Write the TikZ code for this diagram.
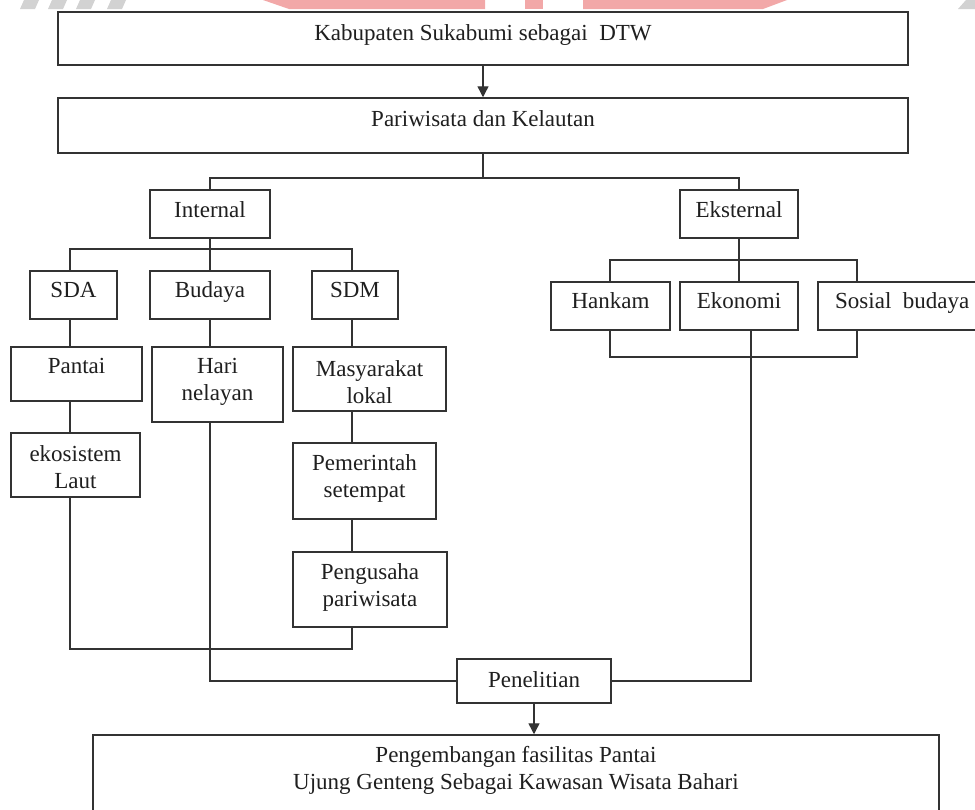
\documentclass[tikz,border=0pt]{standalone}
\usepackage{fontspec}
\setmainfont{Liberation Serif}
\usetikzlibrary{arrows.meta,fit,calc}
\definecolor{boxcol}{HTML}{333333}
\definecolor{wmred}{HTML}{F2A8A8}
\definecolor{wmgrey}{HTML}{D2D2D2}
\tikzset{
  box/.style={draw=boxcol, line width=1.5pt, inner sep=0pt},
  txt/.style={font=\fontsize{23}{27}\selectfont, inner sep=0pt, anchor=base, text=black!88},
  mtxt/.style={font=\fontsize{23}{27}\selectfont, inner sep=0pt, anchor=center, align=center, text=black!88},
  conn/.style={draw=boxcol, line width=1.4pt},
  arr/.style={conn, -{Triangle[length=11pt,width=11pt]}},
  wmr/.style={fill=wmred, draw=none},
  wmg/.style={fill=wmgrey, draw=none},
}
\newcommand{\mybox}[5]{\node[box, fit={(#2,#3) (#4,#5)}] (#1) {};}
\begin{document}
\begin{tikzpicture}[x=1pt,y=-1pt]
\useasboundingbox (0,0) rectangle (975,809);
\clip (0,0) rectangle (975,809);
\fill[white] (0,0) rectangle (975,809);
% watermark fragments
\fill[wmg] (24,0) -- (39,0) -- (35,9) -- (20,9) -- cycle;
\fill[wmg] (52,0) -- (67,0) -- (63,9) -- (48,9) -- cycle;
\fill[wmg] (80,0) -- (95,0) -- (91,9) -- (76,9) -- cycle;
\fill[wmg] (111,0) -- (126,0) -- (122,9) -- (107,9) -- cycle;
\fill[wmg] (966,0) -- (975,0) -- (975,9) -- (958,9) -- cycle;
\fill[wmr] (263,0) -- (485,0) -- (485,9) -- (289,9) -- cycle;
\fill[wmr] (525,0) -- (543,0) -- (543,9) -- (525,9) -- cycle;
\fill[wmr] (583,0) -- (787,0) -- (763,9) -- (583,9) -- cycle;

% boxes
\mybox{top}{58}{12}{908}{65}
\mybox{pari}{58}{98}{908}{153}
\mybox{int}{150}{190}{270}{238}
\mybox{eks}{680}{190}{798}{238}
\mybox{sda}{30}{271}{117}{319}
\mybox{bud}{150}{271}{270}{319}
\mybox{sdm}{312}{271}{398}{319}
\mybox{han}{551}{282}{670}{330}
\mybox{eko}{680}{282}{798}{330}
\mybox{sos}{818}{282}{1010}{330}
\mybox{pan}{11}{347}{142}{401}
\mybox{hari}{152}{347}{283}{422}
\mybox{mas}{293}{347}{446}{411}
\mybox{ekos}{11}{433}{140}{497}
\mybox{pem}{293}{443}{436}{519}
\mybox{peng}{293}{552}{447}{627}
\mybox{pen}{457}{659}{611}{703}
\mybox{big}{93}{735}{939}{830}

% texts
\node[txt] (t-top) at (483,40) {Kabupaten Sukabumi sebagai\ \ DTW};
\node[txt] (t-pari) at (483,126) {Pariwisata dan Kelautan};
\node[txt] (t-int) at (210,217) {Internal};
\node[txt] (t-eks) at (739,217) {Eksternal};
\node[txt] (t-sda) at (73.5,297) {SDA};
\node[txt] (t-bud) at (210,297) {Budaya};
\node[txt] (t-sdm) at (355,297) {SDM};
\node[txt] (t-han) at (610.5,308) {Hankam};
\node[txt] (t-eko) at (739,308) {Ekonomi};
\node[txt, anchor=base west] (t-sos) at (835,308) {Sosial\ \ budaya};
\node[txt] (t-pan) at (76.5,373) {Pantai};
\node[mtxt] (t-hari) at (217.5,382) {Hari\\nelayan};
\node[mtxt] (t-mas) at (369.5,382) {Masyarakat\\lokal};
\node[mtxt] (t-ekos) at (75.5,467.5) {ekosistem\\Laut};
\node[mtxt] (t-pem) at (364.5,478.5) {Pemerintah\\setempat};
\node[mtxt] (t-peng) at (370,587) {Pengusaha\\pariwisata};
\node[txt] (t-pen) at (534,687) {Penelitian};
\node[mtxt] (t-big) at (516,770) {Pengembangan fasilitas Pantai\\Ujung Genteng Sebagai Kawasan Wisata Bahari};

% junction coordinates
\coordinate (jtop) at (483,178);
\coordinate (jint) at (0,249);
\coordinate (jeks) at (0,260);
\coordinate (jhan) at (0,357);
\coordinate (jbr) at (0,649);
\coordinate (xa) at (70,0);
\coordinate (xb) at (210,0);
\coordinate (xc) at (352,0);
\coordinate (xe) at (739,0);
\coordinate (xh) at (610,0);
\coordinate (xk) at (751,0);
\coordinate (xs) at (857,0);

% connectors
\draw[arr] (top) -- (pari);
\draw[conn] (pari.south) -- (jtop);
\draw[conn] (int.north -| xb) -- (xb |- jtop) -- (xe |- jtop) -- (eks.north -| xe);
\draw[conn] (int.south -| xb) -- (bud.north -| xb);
\draw[conn] (sda.north -| xa) -- (xa |- jint) -- (xc |- jint) -- (sdm.north -| xc);
\draw[conn] (sda.south -| xa) -- (pan.north -| xa);
\draw[conn] (pan.south -| xa) -- (ekos.north -| xa);
\draw[conn] (bud.south -| xb) -- (hari.north -| xb);
\draw[conn] (sdm.south -| xc) -- (mas.north -| xc);
\draw[conn] (mas.south -| xc) -- (pem.north -| xc);
\draw[conn] (pem.south -| xc) -- (peng.north -| xc);
\draw[conn] (ekos.south -| xa) -- (xa |- jbr) -- (xc |- jbr) -- (peng.south -| xc);
\draw[conn] (hari.south -| xb) |- (pen.west);
\draw[conn] (eks.south -| xe) -- (eko.north -| xe);
\draw[conn] (han.north -| xh) -- (xh |- jeks) -- (xs |- jeks) -- (sos.north -| xs);
\draw[conn] (han.south -| xh) -- (xh |- jhan) -- (xs |- jhan) -- (sos.south -| xs);
\draw[conn] (eko.south -| xk) |- (pen.east);
\draw[arr] (pen.south) -- (big.north -| pen.south);
\end{tikzpicture}
\end{document}
